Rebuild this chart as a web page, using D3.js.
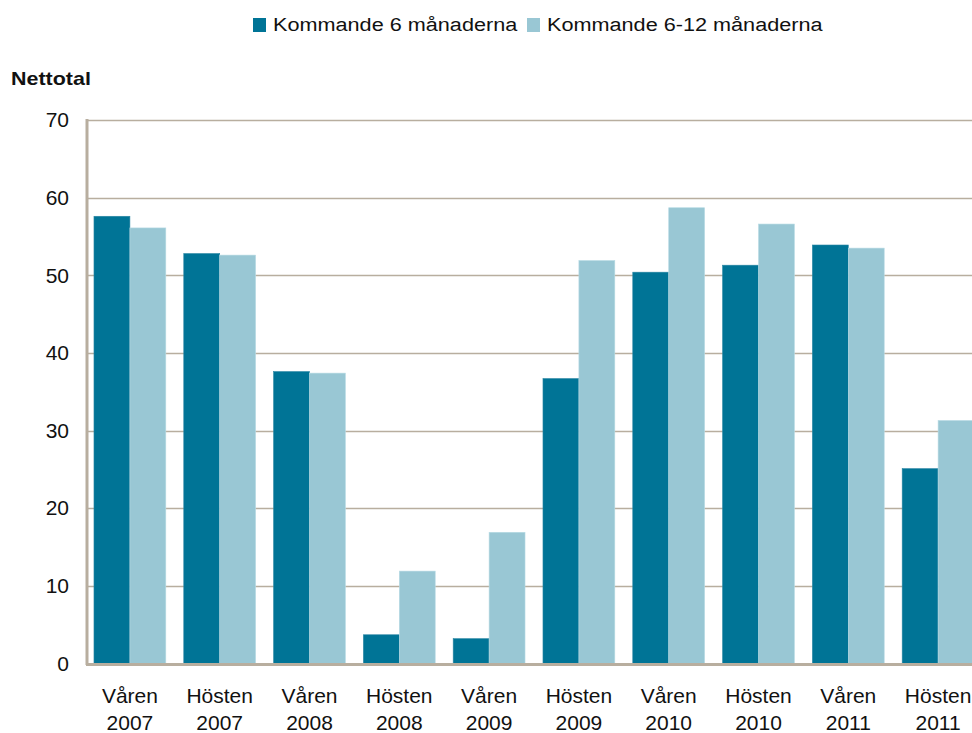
<!DOCTYPE html>
<html><head><meta charset="utf-8">
<script src="https://cdn.jsdelivr.net/npm/d3@7"></script>
<style>body{margin:0;background:#fff}svg{display:block;font-family:"Liberation Sans",Arial,sans-serif}</style>
</head><body><svg id="c" width="972" height="733"></svg>
<script>
const categories = [["Våren","2007"],["Hösten","2007"],["Våren","2008"],["Hösten","2008"],["Våren","2009"],["Hösten","2009"],["Våren","2010"],["Hösten","2010"],["Våren","2011"],["Hösten","2011"]];
const seriesNames = ["Kommande 6 månaderna","Kommande 6-12 månaderna"];
const next6 = [57.6, 52.8, 37.6, 3.7, 3.2, 36.7, 50.4, 51.3, 53.9, 25.1];
const next6to12 = [56.1, 52.6, 37.4, 11.9, 16.9, 51.9, 58.7, 56.6, 53.5, 31.3];
const yTicks = [0,10,20,30,40,50,60,70];
const colors = ["#007496","#99c7d4"];

const svg = d3.select("#c");
const keys = categories.map(c => c.join(" "));
const x = d3.scaleBand().domain(keys).range([85, 983]).paddingInner(0.2).paddingOuter(0.1);
const x1 = d3.scaleBand().domain([0,1]).range([0, x.bandwidth()]);
const y = d3.scaleLinear().domain([0,70]).range([663.5, 120]);
const gridColor = "#b8ae9f";

// gridlines
svg.append("g").selectAll("line").data(yTicks.filter(t=>t>0)).join("line")
  .attr("x1", 87).attr("x2", 972).attr("y1", d=>Math.round(y(d))+0.5).attr("y2", d=>Math.round(y(d))+0.5)
  .attr("stroke", gridColor).attr("stroke-width", 1.3);

// y axis labels
const yAxis = d3.axisLeft(y).tickValues(yTicks).tickSize(0).tickPadding(0);
const ya = svg.append("g").attr("transform","translate(69,0)").call(yAxis);
ya.select(".domain").remove();
ya.selectAll("text").attr("font-size", 21).attr("fill","#111").attr("font-family","Liberation Sans, Arial, sans-serif");

// bars
const series = [next6, next6to12];
const g = svg.append("g");
series.forEach((vals, si) => {
  g.selectAll(".s"+si).data(vals).join("rect")
    .attr("x", (d,i) => x(keys[i]) + x1(si))
    .attr("y", d => y(d))
    .attr("width", x1.bandwidth())
    .attr("height", d => y(0) - y(d))
    .attr("fill", colors[si])
    .attr("stroke", si===0 ? "#2a86a3" : "#b8dbe4").attr("stroke-width", 0.6);
});

// axes lines
svg.append("line").attr("x1", 87).attr("x2", 87).attr("y1", 119).attr("y2", 665).attr("stroke", gridColor).attr("stroke-width", 3);
svg.append("line").attr("x1", 86).attr("x2", 972).attr("y1", 664.5).attr("y2", 664.5).attr("stroke", gridColor).attr("stroke-width", 3);

// x labels
const xl = svg.append("g");
categories.forEach((c, i) => {
  const cx = x(keys[i]) + x.bandwidth()/2;
  const t = xl.append("text").attr("x", cx).attr("text-anchor","middle").attr("font-size", 21).attr("fill","#111");
  t.append("tspan").attr("x", cx).attr("y", 703).text(c[0]);
  t.append("tspan").attr("x", cx).attr("y", 730).text(c[1]);
});

// y title
svg.append("text").attr("transform","translate(11,85) scale(1.13,1)").attr("font-size", 19).attr("font-weight","bold").attr("fill","#111").text("Nettotal");

// legend
const legX = [253, 527];
seriesNames.forEach((n, i) => {
  svg.append("rect").attr("x", legX[i]).attr("y", 18).attr("width", 13).attr("height", 14).attr("fill", colors[i]);
  svg.append("text").attr("transform", `translate(${legX[i] + 20},31) scale(1.14,1)`).attr("font-size", 19).attr("fill","#111").text(n);
});
</script></body></html>
